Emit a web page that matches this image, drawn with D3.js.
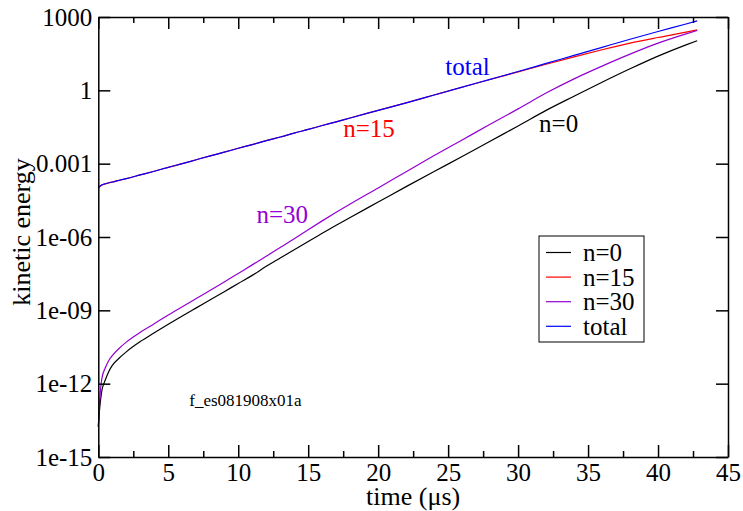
<!DOCTYPE html>
<html>
<head>
<meta charset="utf-8">
<script src="https://cdn.jsdelivr.net/npm/d3@7"></script>
<style>
  body { margin: 0; background: #fff; }
  svg { display: block; }
  svg text { font-family: "Liberation Serif", "Times New Roman", serif !important; }
  .axis path, .axis line { stroke: #000; stroke-width: 1.5; }
</style>
</head>
<body>
<svg id="chart" width="743" height="511"></svg>
<script>
const times = [0, 0.1, 0.25, 0.5, 0.75, 1, 1.5, 2, 3, 4, 5, 6, 7, 8, 9, 10, 11, 12, 13, 14,
  15, 16, 17, 18, 20, 22, 24, 26, 28, 30, 32, 34, 36, 38, 40, 42, 42.8];

const n0 = [1.74e-14, 1e-13, 5e-13, 1.41e-12, 3.16e-12, 5.62e-12, 1.12e-11, 2e-11, 5.25e-11,
  1.2e-10, 2.69e-10, 5.89e-10, 1.26e-9, 2.69e-9, 5.75e-9, 1.26e-8, 2.69e-8, 6.31e-8, 1.38e-7,
  3.02e-7, 6.61e-7, 1.41e-6, 3.02e-6, 6.31e-6, 2.69e-5, 1.15e-4, 4.79e-4, 1.95e-3, 8.32e-3,
  3.47e-2, 0.151, 0.575, 2.14, 7.59, 25.1, 72.4, 107];

const n30 = [1.74e-14, 2e-13, 1.58e-12, 4.47e-12, 8.91e-12, 1.41e-11, 2.82e-11, 5.01e-11, 1.26e-10,
  2.82e-10, 6.46e-10, 1.41e-9, 3.02e-9, 6.61e-9, 1.45e-8, 3.24e-8, 7.24e-8, 1.62e-7, 3.72e-7,
  8.51e-7, 2e-6, 4.57e-6, 1.02e-5, 2.24e-5, 1.02e-4, 4.68e-4, 2.14e-3, 9.33e-3, 4.07e-2,
  0.174, 0.776, 2.95, 9.77, 30.2, 85.1, 204, 282];

const n15 = [9.7e-5, 1.16e-4, 1.34e-4, 1.5e-4, 1.65e-4, 1.77e-4, 2.08e-4, 2.44e-4, 3.46e-4,
  4.89e-4, 7.07e-4, 1e-3, 1.45e-3, 2.09e-3, 2.95e-3, 4.27e-3, 6.03e-3, 8.71e-3, 1.23e-2,
  1.78e-2, 2.51e-2, 3.63e-2, 5.13e-2, 7.41e-2, 0.151, 0.309, 0.644, 1.34, 2.77,
  5.68, 11.7, 23.4, 45.6, 85, 145, 240, 298];

const total = [9.77e-5, 1.17e-4, 1.35e-4, 1.51e-4, 1.66e-4, 1.78e-4, 2.09e-4, 2.45e-4, 3.47e-4,
  4.9e-4, 7.08e-4, 1e-3, 1.45e-3, 2.09e-3, 2.95e-3, 4.27e-3, 6.03e-3, 8.71e-3, 1.23e-2,
  1.78e-2, 2.51e-2, 3.63e-2, 5.13e-2, 7.41e-2, 0.151, 0.309, 0.646, 1.35, 2.82,
  5.89, 12.6, 26.9, 57.5, 123, 255, 516, 690];

const seriesNames = ["n=0", "n=15", "n=30", "total"];
const seriesColors = ["#000000", "#ff0000", "#9400d3", "#0000ff"];
const xTicks = [0, 5, 10, 15, 20, 25, 30, 35, 40, 45];
const xMinorTicks = [2.5, 7.5, 12.5, 17.5, 22.5, 27.5, 32.5, 37.5, 42.5];
const yTicks = [1e-15, 1e-12, 1e-9, 1e-6, 1e-3, 1, 1000];
const yTickLabels = ["1e-15", "1e-12", "1e-09", "1e-06", "0.001", "1", "1000"];

const svg = d3.select("#chart");
const plotLeft = 98.3, plotRight = 728, plotTop = 17, plotBottom = 457;
const fontSize = 25;

const x = d3.scaleLinear().domain([0, 45]).range([plotLeft, plotRight]);
const y = d3.scaleLog().domain([1e-15, 1000]).range([plotBottom, plotTop]);

const series = [n0, n15, n30, total].map((values, i) => ({
  name: seriesNames[i],
  color: seriesColors[i],
  points: times.map((t, j) => [t, values[j]]),
}));

const line = d3.line()
  .x((d) => x(d[0]))
  .y((d) => y(d[1]))
  .curve(d3.curveMonotoneX);

svg.append("g")
  .selectAll("path")
  .data(series)
  .join("path")
  .attr("fill", "none")
  .attr("stroke", (d) => d.color)
  .attr("stroke-width", 1.2)
  .attr("d", (d) => line(d.points));

// frame + ticks, all pointing inward
svg.append("g")
  .attr("class", "axis")
  .attr("transform", `translate(0,${plotBottom})`)
  .call(d3.axisBottom(x).tickValues(xTicks).tickSize(-12).tickSizeOuter(0).tickPadding(6)
    .tickFormat(d3.format("d")))
  .call((g) => g.selectAll("text").attr("font-size", fontSize).attr("fill", "#000"));

svg.append("g")
  .attr("class", "axis")
  .attr("transform", `translate(0,${plotBottom})`)
  .call(d3.axisBottom(x).tickValues(xMinorTicks).tickSize(-6).tickSizeOuter(0).tickFormat(""))
  .call((g) => g.select(".domain").remove());

svg.append("g")
  .attr("class", "axis")
  .attr("transform", `translate(0,${plotTop})`)
  .call(d3.axisTop(x).tickValues(xTicks).tickSize(-12).tickSizeOuter(0).tickFormat(""));

svg.append("g")
  .attr("class", "axis")
  .attr("transform", `translate(0,${plotTop})`)
  .call(d3.axisTop(x).tickValues(xMinorTicks).tickSize(-6).tickSizeOuter(0).tickFormat(""))
  .call((g) => g.select(".domain").remove());

svg.append("g")
  .attr("class", "axis")
  .attr("transform", `translate(${plotLeft},0)`)
  .call(d3.axisLeft(y).tickValues(yTicks).tickSize(-12).tickSizeOuter(0).tickPadding(6)
    .tickFormat((d, i) => yTickLabels[i]))
  .call((g) => g.selectAll("text").attr("font-size", fontSize).attr("fill", "#000"));

svg.append("g")
  .attr("class", "axis")
  .attr("transform", `translate(${plotRight},0)`)
  .call(d3.axisRight(y).tickValues(yTicks).tickSize(-12).tickSizeOuter(0).tickFormat(""));

// axis titles
svg.append("text")
  .attr("x", (plotLeft + plotRight) / 2)
  .attr("y", 505)
  .attr("text-anchor", "middle")
  .attr("font-size", 26)
  .text("time (μs)");

svg.append("text")
  .attr("transform", "translate(30,232) rotate(-90)")
  .attr("text-anchor", "middle")
  .attr("font-size", 26)
  .text("kinetic energy");

// labels next to the curves
const curveLabels = [
  { text: "total", color: "#0000ff", t: 24.8, v: 4.2 },
  { text: "n=15", color: "#ff0000", t: 17.5, v: 0.0126 },
  { text: "n=30", color: "#9400d3", t: 11.3, v: 3.8e-6 },
  { text: "n=0", color: "#000000", t: 31.5, v: 0.0197 },
];

svg.append("g")
  .selectAll("text")
  .data(curveLabels)
  .join("text")
  .attr("x", (d) => x(d.t))
  .attr("y", (d) => y(d.v))
  .attr("fill", (d) => d.color)
  .attr("font-size", fontSize)
  .text((d) => d.text);

svg.append("text")
  .attr("x", x(6.5))
  .attr("y", y(1.2e-13))
  .attr("font-size", 17)
  .text("f_es081908x01a");

// legend
const legend = svg.append("g").attr("transform", "translate(539,236)");
legend.append("rect")
  .attr("width", 105)
  .attr("height", 106)
  .attr("fill", "#fff")
  .attr("stroke", "#000")
  .attr("stroke-width", 1);

const rows = legend.selectAll("g")
  .data(series)
  .join("g")
  .attr("transform", (d, i) => `translate(0,${16.5 + i * 24.6})`);

rows.append("line")
  .attr("x1", 7)
  .attr("x2", 32)
  .attr("stroke", (d) => d.color)
  .attr("stroke-width", 1.2);

rows.append("text")
  .attr("x", 44)
  .attr("y", 8.5)
  .attr("font-size", fontSize)
  .text((d) => d.name);
</script>
</body>
</html>
